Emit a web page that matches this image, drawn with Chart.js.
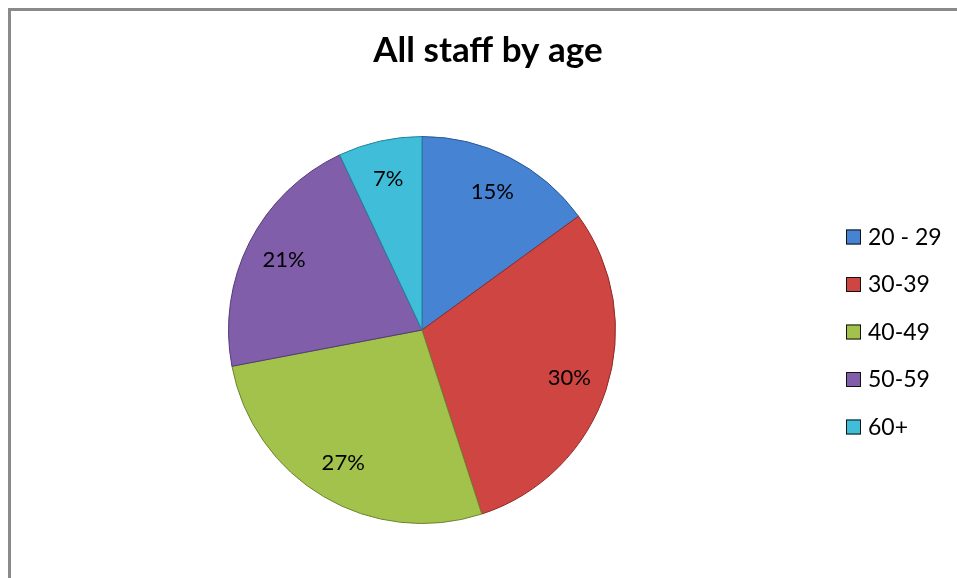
<!DOCTYPE html>
<html>
<head>
<meta charset="utf-8">
<script src="https://cdn.jsdelivr.net/npm/chart.js@4/dist/chart.umd.min.js"></script>
<style>
  body { margin: 0; background: #fff; }
  #wrap { position: relative; width: 957px; height: 578px; }
  #frame {
    position: absolute; left: 8px; top: 8px; width: 1000px; height: 1000px;
    border-left: 3px solid #8a8a8a; border-top: 3px solid #8a8a8a;
    pointer-events: none;
  }
</style>
</head>
<body>
<div id="wrap">
  <canvas id="chart-area" width="957" height="578"></canvas>
  <div id="frame"></div>
</div>
<script>
var chartTitle = 'All staff by age';
var ageGroups = ['20 - 29', '30-39', '40-49', '50-59', '60+'];
var staffShare = [15, 30, 27, 21, 7];
var sliceColors = ['#4683d2', '#cf4541', '#a2c24b', '#805ea9', '#3fbdd9'];
var edgeColors = ['#2c5a94', '#8e2a27', '#6c8530', '#54397a', '#23839a'];

// lighten/darken a hex colour by amount (-255..255)
function shade(hex, amt) {
    var n = parseInt(hex.slice(1), 16);
    var r = Math.min(255, Math.max(0, (n >> 16) + amt));
    var g = Math.min(255, Math.max(0, ((n >> 8) & 255) + amt));
    var b = Math.min(255, Math.max(0, (n & 255) + amt));
    return 'rgb(' + r + ',' + g + ',' + b + ')';
}

function sliceFill(context) {
    var chart = context.chart;
    var base = sliceColors[context.dataIndex];
    var arc = context.element;
    if (!chart.chartArea || !arc || !arc.outerRadius) return base;
    var g = chart.ctx.createRadialGradient(arc.x, arc.y, 0, arc.x, arc.y, arc.outerRadius);
    g.addColorStop(0, shade(base, 6));
    g.addColorStop(0.85, base);
    g.addColorStop(1, shade(base, -25));
    return g;
}

// percentage labels sitting inside each slice
var sliceLabels = {
    id: 'sliceLabels',
    afterDatasetsDraw: function(chart) {
        var ctx = chart.ctx;
        var meta = chart.getDatasetMeta(0);
        ctx.save();
        ctx.font = '22px Lato';
        ctx.fillStyle = '#000';
        ctx.textAlign = 'center';
        ctx.textBaseline = 'middle';
        meta.data.forEach(function(arc, i) {
            var mid = (arc.startAngle + arc.endAngle) / 2;
            var r = arc.outerRadius * 0.8;
            ctx.fillText(staffShare[i] + '%', arc.x + Math.cos(mid) * r, arc.y + Math.sin(mid) * r);
        });
        ctx.restore();
    }
};

// title over the whole frame, legend column centred on the pie
var frameText = {
    id: 'frameText',
    afterDraw: function(chart) {
        var ctx = chart.ctx;
        var area = chart.chartArea;
        ctx.save();
        ctx.fillStyle = '#000';
        ctx.textBaseline = 'middle';

        ctx.font = 'bold 35px Lato';
        ctx.textAlign = 'center';
        ctx.fillText(chartTitle, 488, 51);

        var step = 47.5;
        var midY = (area.top + area.bottom) / 2 + 1.5;
        var y0 = midY - step * (ageGroups.length - 1) / 2;
        ctx.font = '23px Lato';
        ctx.textAlign = 'left';
        ageGroups.forEach(function(name, i) {
            var y = y0 + i * step;
            ctx.fillStyle = sliceColors[i];
            ctx.fillRect(846, y - 7, 15, 15);
            ctx.strokeStyle = '#111';
            ctx.lineWidth = 1;
            ctx.strokeRect(846.5, y - 6.5, 14, 14);
            ctx.fillStyle = '#000';
            ctx.fillText(name, 868, y + 1);
        });
        ctx.restore();
    }
};

var config = {
    type: 'pie',
    data: {
        labels: ageGroups,
        datasets: [{
            data: staffShare,
            backgroundColor: sliceFill,
            borderColor: edgeColors,
            borderWidth: 1
        }]
    },
    options: {
        responsive: false,
        animation: false,
        layout: { padding: { left: 22, right: 135, top: 136, bottom: 54 } },
        plugins: {
            title: { display: false },
            legend: { display: false },
            tooltip: { enabled: false }
        }
    },
    plugins: [sliceLabels, frameText]
};

var ctx = document.getElementById('chart-area').getContext('2d');
window.myPie = new Chart(ctx, config);
</script>
</body>
</html>
